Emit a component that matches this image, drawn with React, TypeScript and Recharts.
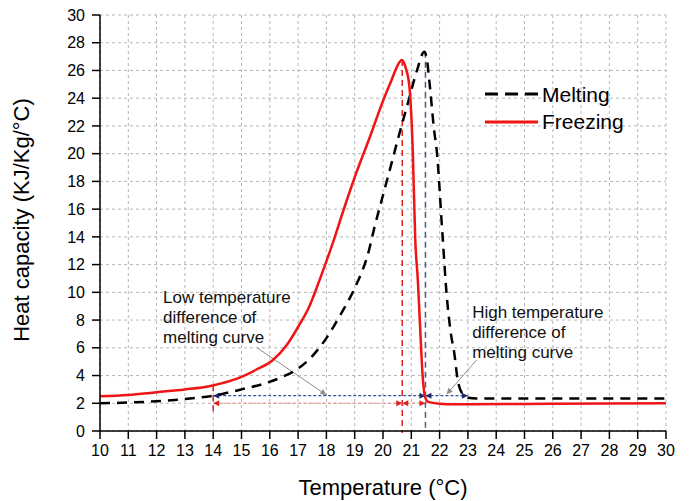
import React from 'react';
import {
  ComposedChart,
  Line,
  XAxis,
  YAxis,
  CartesianGrid,
  ReferenceLine,
  ReferenceDot,
  Legend,
} from 'recharts';

// ---- data ----
const meltingT = [10, 11, 12, 13, 14, 15, 16, 16.5, 17, 17.5, 18, 18.5, 19, 19.5, 19.7, 20, 20.3, 20.6, 20.9, 21.2, 21.46, 21.55, 21.65, 21.8, 21.9, 22.1, 22.25, 22.4, 22.52, 22.63, 22.8, 23.0, 23.3, 26, 30];
const meltingCp = [2.0, 2.05, 2.15, 2.3, 2.55, 3.0, 3.55, 3.95, 4.5, 5.4, 6.7, 8.4, 10.3, 13.0, 14.7, 17.0, 19.3, 21.6, 23.8, 26.0, 27.35, 26.8, 25.0, 21.8, 20.2, 14.2, 9.8, 7.0, 5.6, 3.8, 2.7, 2.4, 2.35, 2.35, 2.35];

const freezingT = [10, 11, 12, 13, 13.9, 15, 15.5, 16.1, 16.6, 17, 17.4, 17.76, 18.2, 18.6, 19.0, 19.5, 20.0, 20.3, 20.5, 20.67, 20.8, 20.93, 21.05, 21.14, 21.23, 21.3, 21.4, 21.48, 21.6, 22.0, 22.5, 23, 26, 30];
const freezingCp = [2.5, 2.6, 2.8, 3.0, 3.25, 3.9, 4.4, 5.1, 6.2, 7.5, 9.0, 10.9, 13.4, 15.9, 18.3, 21.0, 23.8, 25.3, 26.3, 26.75, 26.2, 24.9, 20.3, 13.8, 10.9, 8.0, 4.0, 2.5, 2.1, 1.97, 1.93, 1.93, 1.96, 2.0];

const xTicks = [10, 11, 12, 13, 14, 15, 16, 17, 18, 19, 20, 21, 22, 23, 24, 25, 26, 27, 28, 29, 30];
const yTicks = [0, 2, 4, 6, 8, 10, 12, 14, 16, 18, 20, 22, 24, 26, 28, 30];

// annotation values (data coordinates)
const freezePeakT = 20.68;
const freezePeakCp = 26.75;
const meltPeakT = 21.5;
const meltPeakCp = 27.35;
const lowT = 14;
const highT = 23;
const blueLevel = 2.55;
const redLevel = 2.0;

const lowPointer = { from: [15.55, 6.0], to: [18.0, 2.6] };
const highPointer = { from: [23.31, 5.13], to: [22.25, 2.65] };
const lowText = { x: 12.23, y: 9.24, lines: ['Low temperature', 'difference of', 'melting curve'] };
const highText = { x: 23.15, y: 8.16, lines: ['High temperature', 'difference of', 'melting curve'] };

const MELT = { name: 'Melting', color: '#000000', dash: '10 7' };
const FREEZE = { name: 'Freezing', color: '#f01414' };

const meltingData = meltingT.map((t, i) => ({ t, cp: meltingCp[i] }));
const freezingData = freezingT.map((t, i) => ({ t, cp: freezingCp[i] }));

const FONT = '"Liberation Sans", Arial, sans-serif';

function head(x: number, y: number, a: number, color: string, key: string, len = 6, w = 3) {
  const bx = x - len * Math.cos(a);
  const by = y - len * Math.sin(a);
  const px = -Math.sin(a) * w;
  const py = Math.cos(a) * w;
  return (
    <polygon
      key={key}
      points={`${x},${y} ${bx + px},${by + py} ${bx - px},${by - py}`}
      fill={color}
      stroke="none"
    />
  );
}

const makeArrow =
  (color: string, headColor: string, dash: string | undefined, width: number, startHead: boolean, endHead: boolean) =>
  (p: any) => {
    const { x1, y1, x2, y2 } = p;
    const a = Math.atan2(y2 - y1, x2 - x1);
    return (
      <g>
        <line x1={x1} y1={y1} x2={x2} y2={y2} stroke={color} strokeWidth={width} strokeDasharray={dash} />
        {startHead ? head(x1, y1, a + Math.PI, headColor, 's') : null}
        {endHead ? head(x2, y2, a, headColor, 'e') : null}
      </g>
    );
  };

const makeText = (lines: string[]) => (p: any) => (
  <text x={p.cx} y={p.cy} fontSize={17} fill="#111" fontFamily={FONT}>
    {lines.map((l, i) => (
      <tspan key={i} x={p.cx} dy={i === 0 ? 0 : 20}>
        {l}
      </tspan>
    ))}
  </text>
);

const legendItems = [MELT, FREEZE];

const renderLegend = () => (
  <svg width={170} height={60} style={{ display: 'block' }}>
    {legendItems.map((it, i) => (
      <g key={it.name}>
        <line
          x1={5}
          x2={58}
          y1={14 + i * 28}
          y2={14 + i * 28}
          stroke={it.color}
          strokeWidth={3}
          strokeDasharray={(it as any).dash ? '13 7' : undefined}
        />
        <text x={62} y={22 + i * 27} fontSize={21} fontFamily={FONT} fill="#000">
          {it.name}
        </text>
      </g>
    ))}
  </svg>
);

export default function App() {
  return (
    <div style={{ position: 'absolute', left: 0, top: 0, background: '#fff' }}>
      <ComposedChart
        width={691}
        height={501}
        margin={{ top: 15, right: 25, left: 0, bottom: 0 }}
        style={{ fontFamily: FONT }}
      >
        <CartesianGrid stroke="#b5b5b5" strokeDasharray="3 3" strokeWidth={1} />
        <XAxis
          dataKey="t"
          type="number"
          domain={[10, 30]}
          ticks={xTicks}
          interval={0}
          allowDataOverflow
          height={70}
          tickSize={8}
          tickMargin={6}
          axisLine={{ stroke: '#000', strokeWidth: 1.5 }}
          tickLine={{ stroke: '#000', strokeWidth: 1.5 }}
          tick={{ fontSize: 16, fill: '#000' }}
          label={{
            content: (props: any) => {
              const vb = props.viewBox || {};
              return (
                <text
                  x={vb.x + vb.width / 2}
                  y={vb.y + 64}
                  textAnchor="middle"
                  fontSize={22}
                  fontFamily={FONT}
                  fill="#000"
                >
                  Temperature (°C)
                </text>
              );
            },
          }}
        />
        <XAxis
          xAxisId="top"
          orientation="top"
          type="number"
          domain={[10, 30]}
          height={0}
          tick={false}
          tickLine={false}
          axisLine={{ stroke: '#000', strokeWidth: 1.5 }}
        />
        <YAxis
          type="number"
          domain={[0, 30]}
          ticks={yTicks}
          interval={0}
          allowDataOverflow
          width={100}
          tickSize={8}
          tickMargin={7}
          axisLine={{ stroke: '#000', strokeWidth: 1.5 }}
          tickLine={{ stroke: '#000', strokeWidth: 1.5 }}
          tick={{ fontSize: 16, fill: '#000' }}
          label={{
            content: (props: any) => {
              const vb = props.viewBox || {};
              const x = vb.x + 29;
              const y = vb.y + vb.height / 2 - 3;
              return (
                <text
                  x={x}
                  y={y}
                  transform={`rotate(-90, ${x}, ${y})`}
                  textAnchor="middle"
                  fontSize={22}
                  fontFamily={FONT}
                  fill="#000"
                >
                  Heat capacity (KJ/Kg/°C)
                </text>
              );
            },
          }}
        />
        <YAxis
          yAxisId="right"
          orientation="right"
          type="number"
          domain={[0, 30]}
          width={0}
          tick={false}
          tickLine={false}
          axisLine={{ stroke: '#000', strokeWidth: 1.5 }}
        />

        {/* vertical dashed markers */}
        <ReferenceLine
          segment={[{ x: freezePeakT, y: freezePeakCp }, { x: freezePeakT, y: -0.15 }]}
          ifOverflow="visible"
          shape={makeArrow('#e02020', '#e02020', '6 4', 1.5, false, false)}
        />
        <ReferenceLine
          segment={[{ x: meltPeakT, y: meltPeakCp }, { x: meltPeakT, y: 0 }]}
          ifOverflow="visible"
          shape={makeArrow('#4a5a8e', '#4a5a8e', '6 4', 1.5, false, false)}
        />
        <ReferenceLine
          segment={[{ x: lowT, y: 3.3 }, { x: lowT, y: 1.15 }]}
          ifOverflow="visible"
          shape={makeArrow('#e02020', '#e02020', '6 4', 1.5, false, false)}
        />

        {/* horizontal difference arrows */}
        <ReferenceLine
          segment={[{ x: lowT, y: blueLevel }, { x: meltPeakT, y: blueLevel }]}
          ifOverflow="visible"
          shape={makeArrow('#3b4f96', '#1b2a6b', '3 2', 1.2, true, true)}
        />
        <ReferenceLine
          segment={[{ x: meltPeakT, y: blueLevel }, { x: highT, y: blueLevel }]}
          ifOverflow="visible"
          shape={makeArrow('#3b4f96', '#1b2a6b', '3 2', 1.2, true, true)}
        />
        <ReferenceLine
          segment={[{ x: lowT, y: redLevel }, { x: freezePeakT, y: redLevel }]}
          ifOverflow="visible"
          shape={makeArrow('#f08a8a', '#e02020', '3 2', 1.2, true, true)}
        />
        <ReferenceLine
          segment={[{ x: freezePeakT, y: redLevel }, { x: meltPeakT, y: redLevel }]}
          ifOverflow="visible"
          shape={makeArrow('#f08a8a', '#e02020', '3 2', 1.2, true, true)}
        />

        {/* gray pointers */}
        <ReferenceLine
          segment={[{ x: lowPointer.from[0], y: lowPointer.from[1] }, { x: lowPointer.to[0], y: lowPointer.to[1] }]}
          ifOverflow="visible"
          shape={makeArrow('#8c8c8c', '#8c8c8c', undefined, 1, false, true)}
        />
        <ReferenceLine
          segment={[{ x: highPointer.from[0], y: highPointer.from[1] }, { x: highPointer.to[0], y: highPointer.to[1] }]}
          ifOverflow="visible"
          shape={makeArrow('#8c8c8c', '#8c8c8c', undefined, 1, false, true)}
        />

        <Line
          data={meltingData}
          dataKey="cp"
          name={MELT.name}
          type="monotone"
          stroke={MELT.color}
          strokeWidth={2.5}
          strokeDasharray={MELT.dash}
          dot={false}
          activeDot={false}
          isAnimationActive={false}
        />
        <Line
          data={freezingData}
          dataKey="cp"
          name={FREEZE.name}
          type="monotone"
          stroke={FREEZE.color}
          strokeWidth={2.5}
          dot={false}
          activeDot={false}
          isAnimationActive={false}
        />

        <ReferenceDot x={lowText.x} y={lowText.y} r={0} ifOverflow="visible" shape={makeText(lowText.lines)} />
        <ReferenceDot x={highText.x} y={highText.y} r={0} ifOverflow="visible" shape={makeText(highText.lines)} />

        <Legend
          layout="vertical"
          align="center"
          verticalAlign="middle"
          wrapperStyle={{ left: 480, top: 80, width: 170, height: 60 }}
          content={renderLegend}
        />
      </ComposedChart>
    </div>
  );
}
